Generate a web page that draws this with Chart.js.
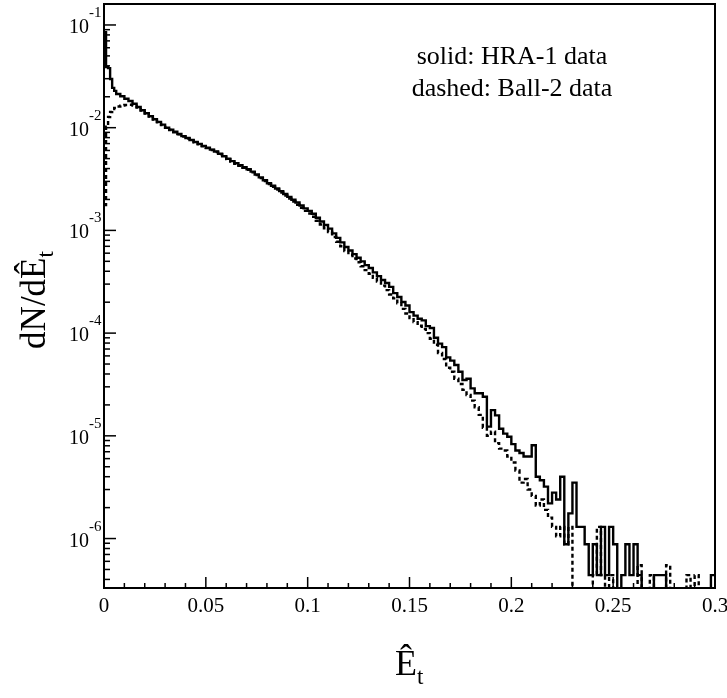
<!DOCTYPE html>
<html>
<head>
<meta charset="utf-8">
<script src="https://cdn.jsdelivr.net/npm/chart.js@4.4.1/dist/chart.umd.min.js"></script>
<style>
  html, body { margin: 0; padding: 0; background: #fff; }
  canvas { display: block; }
</style>
</head>
<body>
<canvas id="myChart" width="727" height="698"></canvas>
<script>
// ============  data ============ //

// left edge of every histogram bin (last entry closes the final bin)
const binStart = [
    0, 0.001, 0.002, 0.003, 0.004, 0.005,
    0.006, 0.008, 0.010, 0.012, 0.014, 0.016, 0.018, 0.020, 0.022, 0.024,
    0.026, 0.028, 0.030, 0.032, 0.034, 0.036, 0.038, 0.040, 0.042, 0.044,
    0.046, 0.048, 0.050, 0.052, 0.054, 0.056, 0.058, 0.060, 0.062, 0.064,
    0.066, 0.068, 0.070, 0.072, 0.074, 0.076, 0.078, 0.080, 0.082, 0.084,
    0.086, 0.088, 0.090, 0.092, 0.094, 0.096, 0.098, 0.100, 0.102, 0.104,
    0.106, 0.108, 0.110, 0.112, 0.114, 0.116, 0.118, 0.120, 0.122, 0.124,
    0.126, 0.128, 0.130, 0.132, 0.134, 0.136, 0.138, 0.140, 0.142, 0.144,
    0.146, 0.148, 0.150, 0.152, 0.154, 0.156, 0.158, 0.160, 0.162, 0.164,
    0.166, 0.168, 0.170, 0.172, 0.174, 0.176, 0.178, 0.180, 0.182, 0.184,
    0.186, 0.188, 0.190, 0.192, 0.194, 0.196, 0.198, 0.200, 0.202, 0.204,
    0.206, 0.208, 0.210, 0.212, 0.214, 0.216, 0.218, 0.220, 0.222, 0.224,
    0.226, 0.228, 0.230, 0.232, 0.234, 0.236, 0.238, 0.240, 0.242, 0.244,
    0.246, 0.248, 0.250, 0.252, 0.254, 0.256, 0.258, 0.260, 0.262, 0.264,
    0.266, 0.268, 0.270, 0.272, 0.274, 0.276, 0.278, 0.280, 0.282, 0.284,
    0.286, 0.288, 0.290, 0.292, 0.294, 0.296, 0.298, 0.300
];

// solid: HRA-1 data
const hra1 = [
    0.085, 0.039, 0.038, 0.0298, 0.0244, 0.0228,
    0.0213, 0.0202, 0.0191, 0.0182, 0.0171, 0.0159, 0.0148, 0.0138, 0.0129, 0.0121,
    0.0114, 0.0107, 0.0100, 0.00957, 0.00912, 0.00869, 0.00828, 0.00793, 0.00759, 0.00726,
    0.00695, 0.00665, 0.00638, 0.00612, 0.00586, 0.00557, 0.00527, 0.00499, 0.00473, 0.00451,
    0.00431, 0.00412, 0.00394, 0.00373, 0.00350, 0.00328, 0.00308, 0.00288, 0.00272, 0.00256,
    0.00241, 0.00226, 0.00212, 0.00199, 0.00187, 0.00175, 0.00164, 0.00155, 0.00145, 0.00133,
    0.00122, 0.00113, 0.00104, 0.000935, 0.000845, 0.000764, 0.000690, 0.000638, 0.000588, 0.000541,
    0.000499, 0.000459, 0.000430, 0.000390, 0.000359, 0.000329, 0.000308, 0.000282, 0.000245, 0.000225,
    0.000201, 0.000186, 0.000160, 0.000148, 0.000138, 0.000133, 0.000117, 0.000112, 9.0e-5, 7.9e-5,
    7.3e-5, 5.8e-5, 5.4e-5, 4.9e-5, 4.2e-5, 3.5e-5, 3.6e-5, 2.9e-5, 2.6e-5, 2.6e-5,
    2.4e-5, 1.23e-5, 1.78e-5, 1.58e-5, 1.17e-5, 1.05e-5, 9.8e-6, 8.3e-6, 7.2e-6, 6.8e-6,
    6.3e-6, 6.3e-6, 8.1e-6, 4.0e-6, 3.7e-6, 3.2e-6, 2.2e-6, 2.8e-6, 2.4e-6, 4.0e-6,
    8.8e-7, 1.76e-6, 3.5e-6, 1.3e-6, 1.3e-6, 8.8e-7, 4.4e-7, 8.8e-7, 4.4e-7, 1.3e-6,
    4.4e-7, 1.3e-6, 8.8e-7, 0, 4.4e-7, 8.8e-7, 4.4e-7, 8.8e-7, 4.4e-7, 0,
    0, 0, 4.4e-7, 4.4e-7, 4.4e-7, 0, 0, 0, 0, 0,
    0, 0, 0, 0, 0, 0, 4.4e-7, 4.4e-7
];

// dashed: Ball-2 data
const ball2 = [
    0.00177, 0.0102, 0.0127, 0.0142, 0.0152, 0.0156,
    0.0161, 0.0164, 0.0166, 0.0167, 0.0164, 0.0157, 0.0147, 0.0137, 0.0128, 0.0120,
    0.0113, 0.0106, 0.00995, 0.00948, 0.00903, 0.00861, 0.00820, 0.00785, 0.00751, 0.00719,
    0.00688, 0.00658, 0.00632, 0.00606, 0.00580, 0.00551, 0.00522, 0.00494, 0.00468, 0.00446,
    0.00426, 0.00407, 0.00389, 0.00368, 0.00345, 0.00323, 0.00303, 0.00283, 0.00266, 0.00250,
    0.00234, 0.00219, 0.00204, 0.00191, 0.00178, 0.00166, 0.00155, 0.00146, 0.00136, 0.00124,
    0.00114, 0.00105, 0.000965, 0.000862, 0.000775, 0.000700, 0.000628, 0.000580, 0.000532, 0.000490,
    0.000448, 0.000410, 0.000378, 0.000345, 0.000318, 0.000290, 0.000262, 0.000238, 0.000218, 0.000195,
    0.000172, 0.000155, 0.000140, 0.000128, 0.000118, 0.000110, 0.000100, 8.8e-5, 7.7e-5, 6.4e-5,
    5.6e-5, 4.6e-5, 4.2e-5, 3.6e-5, 3.2e-5, 2.8e-5, 2.5e-5, 2.2e-5, 1.9e-5, 1.6e-5,
    1.2e-5, 1.0e-5, 1.1e-5, 8.5e-6, 7.5e-6, 7.2e-6, 6.3e-6, 5.5e-6, 4.6e-6, 3.5e-6,
    3.8e-6, 3.0e-6, 2.6e-6, 2.1e-6, 2.4e-6, 1.9e-6, 1.6e-6, 1.3e-6, 1.05e-6, 1.3e-6,
    8.8e-7, 1.3e-6, 0, 0, 0, 0, 0, 4.4e-7, 1.3e-6, 4.4e-7,
    0, 4.4e-7, 0, 0, 0, 0, 0, 0, 5.5e-7, 0,
    0, 4.4e-7, 0, 0, 0, 5.5e-7, 0, 0, 0, 0,
    4.4e-7, 0, 4.4e-7, 0, 0, 0, 0, 0
];

const xTicks = [0, 0.05, 0.1, 0.15, 0.2, 0.25, 0.3];
const xTickLabels = ['0', '0.05', '0.1', '0.15', '0.2', '0.25', '0.3'];
const yTicks = [1e-1, 1e-2, 1e-3, 1e-4, 1e-5, 1e-6];
const yTickExp = ['-1', '-2', '-3', '-4', '-5', '-6'];
const legendLines = ['solid: HRA-1 data', 'dashed: Ball-2 data'];

// ============  chart ============ //

const FONT = '"Liberation Serif", "DejaVu Serif", serif';
const Y_MIN = 3.3e-7;

// empty bins sit below the log axis floor, so the steps drop to the axis
function toPoints(values) {
    return binStart.map((x, i) => ({ x: x, y: values[i] > 0 ? values[i] : Y_MIN / 100 }));
}

const frame = {
    id: 'frame',
    afterDatasetsDraw(chart) {
        const ctx = chart.ctx;
        const a = chart.chartArea;
        const xs = chart.scales.x;
        const ys = chart.scales.y;
        ctx.save();
        ctx.strokeStyle = '#000';
        ctx.fillStyle = '#000';

        // box
        ctx.lineWidth = 2;
        ctx.strokeRect(a.left, a.top, a.right - a.left, a.bottom - a.top);

        const seg = (x1, y1, x2, y2) => {
            ctx.beginPath();
            ctx.moveTo(x1, y1);
            ctx.lineTo(x2, y2);
            ctx.stroke();
        };

        // x ticks (inside, bottom only)
        ctx.lineWidth = 1.5;
        xTicks.forEach((v, i) => {
            const px = xs.getPixelForValue(v);
            seg(px, a.bottom, px, a.bottom - 11);
            if (i < xTicks.length - 1) {
                for (let k = 1; k < 5; k++) {
                    const pm = xs.getPixelForValue(v + k * 0.01);
                    seg(pm, a.bottom, pm, a.bottom - 5);
                }
            }
        });

        // y ticks (inside, left only)
        yTicks.concat([1e-7]).forEach(d => {
            const pd = ys.getPixelForValue(d);
            if (pd >= a.top && pd <= a.bottom) seg(a.left, pd, a.left + 12, pd);
            for (let k = 2; k < 10; k++) {
                const v = k * d;
                if (v < ys.min || v > ys.max) continue;
                const pm = ys.getPixelForValue(v);
                seg(a.left, pm, a.left + 6, pm);
            }
        });

        // x tick labels
        ctx.font = '21px ' + FONT;
        ctx.textAlign = 'center';
        ctx.textBaseline = 'alphabetic';
        xTicks.forEach((v, i) => {
            ctx.fillText(xTickLabels[i], xs.getPixelForValue(v), a.bottom + 24);
        });

        // y tick labels 10^-n
        yTicks.forEach((v, i) => {
            const py = ys.getPixelForValue(v);
            ctx.font = '20px ' + FONT;
            ctx.textAlign = 'right';
            ctx.fillText('10', a.left - 15, py + 8);
            ctx.font = '15px ' + FONT;
            ctx.textAlign = 'left';
            ctx.fillText(yTickExp[i], a.left - 15, py - 8);
        });

        // legend text
        ctx.font = '26px ' + FONT;
        ctx.textAlign = 'center';
        ctx.fillText(legendLines[0], 512, 64);
        ctx.fillText(legendLines[1], 512, 96);

        // x title
        ctx.textAlign = 'left';
        ctx.font = '36px ' + FONT;
        const wE = ctx.measureText('\u00CA').width;
        ctx.fillText('\u00CA', 395, 675);
        ctx.font = '23px ' + FONT;
        ctx.fillText('t', 395 + wE, 684);

        // y title
        ctx.translate(45, 300);
        ctx.rotate(-Math.PI / 2);
        ctx.font = '35px ' + FONT;
        const w1 = ctx.measureText('dN/d\u00CA').width;
        ctx.font = '23px ' + FONT;
        const w2 = ctx.measureText('t').width;
        const x0 = -(w1 + w2) / 2;
        ctx.font = '35px ' + FONT;
        ctx.fillText('dN/d\u00CA', x0, 0);
        ctx.font = '23px ' + FONT;
        ctx.fillText('t', x0 + w1, 8);

        ctx.restore();
    }
};

const ctx1 = document.getElementById('myChart').getContext('2d');

let histChart = new Chart(ctx1, {
    type: 'line',
    data: {
        datasets: [{
            label: 'HRA-1',
            data: toPoints(hra1),
            borderColor: '#000',
            borderWidth: 2.4,
            stepped: 'before',
            pointRadius: 0,
            fill: false
        }, {
            label: 'Ball-2',
            data: toPoints(ball2),
            borderColor: '#000',
            borderWidth: 2.4,
            borderDash: [4, 3],
            stepped: 'before',
            pointRadius: 0,
            fill: false
        }]
    },
    options: {
        responsive: false,
        animation: false,
        devicePixelRatio: 1,
        layout: { padding: { left: 104, right: 12, top: 4, bottom: 110 } },
        plugins: {
            legend: { display: false },
            tooltip: { enabled: false }
        },
        scales: {
            x: { type: 'linear', min: 0, max: 0.3, display: false },
            y: { type: 'logarithmic', min: Y_MIN, max: 0.16, display: false }
        }
    },
    plugins: [frame]
});
</script>
</body>
</html>
